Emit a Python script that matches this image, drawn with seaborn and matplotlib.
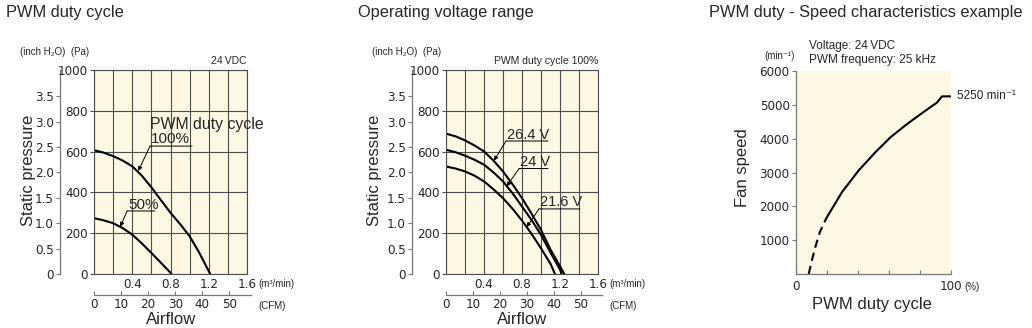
import numpy as np
import pandas as pd
import matplotlib
matplotlib.use("Agg")
import matplotlib.pyplot as plt
import seaborn as sns
from matplotlib import font_manager as fm

# ---------------- data ----------------
# Panel 1: PWM duty cycle (24 VDC)
airflow_pwm100 = [0, 0.1, 0.2, 0.3, 0.4, 0.5, 0.6, 0.7, 0.8, 0.9, 1.0, 1.1, 1.2, 1.215]
pressure_pwm100 = [607, 595, 578, 556, 528, 482, 425, 362, 300, 245, 185, 105, 14, 0]
airflow_pwm50 = [0, 0.1, 0.2, 0.3, 0.4, 0.5, 0.6, 0.7, 0.8, 0.81]
pressure_pwm50 = [274, 263, 249, 225, 193, 150, 103, 55, 6, 0]

# Panel 2: operating voltage range (PWM duty 100%)
airflow_v264 = [0, 0.1, 0.2, 0.3, 0.4, 0.5, 0.6, 0.7, 0.8, 0.9, 1.0, 1.1, 1.2, 1.245]
pressure_v264 = [688, 675, 655, 630, 601, 556, 503, 440, 372, 296, 216, 120, 38, 0]
airflow_v24 = [0, 0.1, 0.2, 0.3, 0.4, 0.5, 0.6, 0.7, 0.8, 0.9, 1.0, 1.1, 1.2, 1.218]
pressure_v24 = [609, 597, 580, 560, 536, 498, 454, 396, 331, 265, 192, 105, 22, 0]
airflow_v216 = [0, 0.1, 0.2, 0.3, 0.4, 0.5, 0.6, 0.7, 0.8, 0.9, 1.0, 1.1, 1.147]
pressure_v216 = [527, 517, 503, 482, 454, 415, 372, 320, 262, 197, 126, 50, 0]

# Panel 3: PWM duty - speed
duty_dashed = [8.2, 10.3, 12.5, 15.5, 19.4]
speed_dashed = [0, 412, 804, 1250, 1637]
duty_solid = [19.4, 29.7, 40.4, 51.2, 60.9, 71.6, 81.3, 91.0, 94.2, 99.6]
speed_solid = [1637, 2422, 3059, 3598, 4039, 4431, 4755, 5069, 5250, 5250]

pa_ticks = [0, 200, 400, 600, 800, 1000]
inch_ticks = [0, 0.5, 1.0, 1.5, 2.0, 2.5, 3.0, 3.5]
inch_labels = ["0", "0.5", "1.0", "1.5", "2.0", "2.5", "3.0", "3.5"]
m3_ticks = [0.4, 0.8, 1.2, 1.6]
m3_labels = ["0.4", "0.8", "1.2", "1.6"]
cfm_ticks = [0, 10, 20, 30, 40, 50]
speed_ticks = [1000, 2000, 3000, 4000, 5000, 6000]
duty_ticks = [0, 20, 40, 60, 80, 100]
duty_labels = ["0", "", "", "", "", "100"]

PA_PER_INCH = 249.09
CFM_PER_M3 = 35.3147

# ---------------- style ----------------
sns.set_theme(style="white")


def has_font(name):
    try:
        fm.findfont(fm.FontProperties(family=name), fallback_to_default=False)
        return True
    except Exception:
        return False


MAIN = "Liberation Sans" if has_font("Liberation Sans") else "DejaVu Sans"
plt.rcParams["font.family"] = [MAIN, "DejaVu Sans"]

# look for a narrow / condensed face for the numbers
narrow_path = None
for f in fm.fontManager.ttflist:
    if f.style != "normal" or f.weight not in (400, "normal", "regular"):
        continue
    if f.name == "Liberation Sans Narrow":
        narrow_path = f.fname
        break
if narrow_path is None:
    for f in fm.fontManager.ttflist:
        if f.style != "normal" or f.weight not in (400, "normal", "regular"):
            continue
        if "Condensed" in f.fname and ("DejaVuSans" in f.fname or "Roboto" in f.fname):
            if "Bold" in f.fname or "Oblique" in f.fname or "Italic" in f.fname:
                continue
            narrow_path = f.fname
            break

if narrow_path is not None:
    NUMFP = dict(fontproperties=fm.FontProperties(fname=narrow_path, size=9.5))
    NUMFP_S = dict(fontproperties=fm.FontProperties(fname=narrow_path, size=8.5))
else:
    NUMFP = dict(fontproperties=fm.FontProperties(family=MAIN, size=9))
    NUMFP_S = dict(fontproperties=fm.FontProperties(family=MAIN, size=8.5))

BEIGE = "#fcf8e3"
GRID = "#4d4d4d"
AXGRAY = "#777777"

W, H = 1032, 328
fig = plt.figure(figsize=(W / 100, H / 100), dpi=100)


def rect(l, t, r, b):
    return [l / W, 1 - b / H, (r - l) / W, (b - t) / H]


def ftext(x, y, s, **kw):
    fig.text(x / W, 1 - y / H, s, **kw)


ax1 = fig.add_axes(rect(94, 70, 247, 274))
ax2 = fig.add_axes(rect(446, 70, 598, 274))
ax3 = fig.add_axes(rect(796, 71, 951, 274))


def pressure_axes(ax, sec_offset):
    ax.set_facecolor(BEIGE)
    ax.set_xlim(0, 1.6)
    ax.set_ylim(0, 1000)
    ax.set_xticks(m3_ticks, m3_labels, **NUMFP)
    ax.set_xticks(np.arange(0, 1.61, 0.2), minor=True)
    ax.set_yticks(pa_ticks, [str(v) for v in pa_ticks], **NUMFP)
    ax.grid(True, which="both", color=GRID, lw=0.8)
    ax.tick_params(axis="x", which="both", length=0, pad=3)
    ax.tick_params(axis="y", length=3, width=0.8, color=GRID, pad=1.5, direction="out", left=True)
    for sp in ax.spines.values():
        sp.set_color(GRID)
        sp.set_linewidth(0.8)
    sec = ax.secondary_yaxis(sec_offset, functions=(lambda p: p / PA_PER_INCH, lambda i: i * PA_PER_INCH))
    sec.set_yticks(inch_ticks, inch_labels, **NUMFP)
    sec.tick_params(length=3, width=0.8, color=AXGRAY, pad=1.5, direction="out")
    sec.spines["left"].set_color(AXGRAY)
    sec.spines["left"].set_linewidth(0.9)
    secx = ax.secondary_xaxis(-0.103, functions=(lambda m: m * CFM_PER_M3, lambda c: c / CFM_PER_M3))
    secx.set_xticks(cfm_ticks, [str(v) for v in cfm_ticks], **NUMFP)
    secx.tick_params(length=3, width=0.8, color=AXGRAY, pad=2, direction="in")
    secx.spines["bottom"].set_color(AXGRAY)
    secx.spines["bottom"].set_linewidth(0.9)
    secx.spines["bottom"].set_bounds(0, 58)


pressure_axes(ax1, -0.222)
pressure_axes(ax2, -0.224)

LW = 1.5
sns.lineplot(x=airflow_pwm100, y=pressure_pwm100, ax=ax1, color="black", lw=LW, sort=False)
sns.lineplot(x=airflow_pwm50, y=pressure_pwm50, ax=ax1, color="black", lw=LW, sort=False)
sns.lineplot(x=airflow_v264, y=pressure_v264, ax=ax2, color="black", lw=LW, sort=False)
sns.lineplot(x=airflow_v24, y=pressure_v24, ax=ax2, color="black", lw=LW, sort=False)
sns.lineplot(x=airflow_v216, y=pressure_v216, ax=ax2, color="black", lw=LW, sort=False)
for ax in (ax1, ax2):
    ax.set_xlabel("")
    ax.set_ylabel("")
    ax.set_xlim(0, 1.6)
    ax.set_ylim(0, 1000)


def callout(ax, label, text_xy, line_x1, tip, fs=10.5):
    # label text, underline and leader arrow (positions in data units)
    tx, ty, uy = text_xy
    ax.text(tx, ty, label, fontsize=fs, ha="left", va="center")
    ax.annotate("", xy=(line_x1, uy), xytext=(tx - 0.01, uy),
                arrowprops=dict(arrowstyle="-", color="black", lw=0.7, shrinkA=0, shrinkB=0))
    ax.annotate("", xy=tip, xytext=(tx - 0.01, uy),
                arrowprops=dict(arrowstyle="-|>", color="black", lw=0.7, mutation_scale=6,
                                shrinkA=0, shrinkB=0))


ax1.text(0.586, 735, "PWM duty cycle", fontsize=11.4, ha="left", va="center")
callout(ax1, "100%", (0.596, 662, 627), 1.025, (0.463, 505), fs=11)
callout(ax1, "50%", (0.356, 338, 309), 0.638, (0.275, 232), fs=11)
callout(ax2, "26.4 V", (0.642, 681, 652), 1.074, (0.505, 556))
callout(ax2, "24 V", (0.779, 549, 517), 1.074, (0.639, 430))
callout(ax2, "21.6 V", (0.989, 353, 319), 1.41, (0.849, 230))

# Panel 3
ax3.set_facecolor(BEIGE)
sns.lineplot(x=duty_dashed, y=speed_dashed, ax=ax3, color="black", lw=LW, sort=False,
             linestyle=(0, (4, 2.5)))
sns.lineplot(x=duty_solid, y=speed_solid, ax=ax3, color="black", lw=LW, sort=False)
ax3.set_xlabel("")
ax3.set_ylabel("")
ax3.set_xlim(0, 100)
ax3.set_ylim(0, 6000)
ax3.set_yticks(speed_ticks, [str(v) for v in speed_ticks], **NUMFP)
ax3.set_xticks(duty_ticks, duty_labels, **NUMFP)
ax3.tick_params(axis="y", length=3, width=0.8, color=AXGRAY, pad=1.5, direction="out", left=True)
ax3.tick_params(axis="x", length=3, width=0.8, color=AXGRAY, pad=4, direction="in", bottom=True)
ax3.spines["top"].set_visible(False)
ax3.spines["right"].set_visible(False)
for s in ("left", "bottom"):
    ax3.spines[s].set_color(AXGRAY)
    ax3.spines[s].set_linewidth(0.9)
ax3.annotate("5250 min\u207b\u00b9", xy=(1, 5250), xycoords=("axes fraction", "data"),
             xytext=(4.5, 0), textcoords="offset points", va="center", ha="left",
             fontsize=8.5, family=[MAIN, "DejaVu Sans"])

# ---------------- texts ----------------
TFS = 11.8
ftext(6, 13, "PWM duty cycle", fontsize=TFS, va="center")
ftext(358, 13, "Operating voltage range", fontsize=TFS, va="center")
ftext(709, 13, "PWM duty - Speed characteristics example", fontsize=TFS, va="center")

LFS = 12
for x in (28, 375):
    ftext(x, 170, "Static pressure", fontsize=LFS, rotation=90, ha="center", va="center")
for x in (171, 522):
    ftext(x, 320, "Airflow", fontsize=LFS, ha="center", va="center")
ftext(743, 168, "Fan speed", fontsize=LFS, rotation=90, ha="center", va="center")
ftext(872, 304, "PWM duty cycle", fontsize=LFS, ha="center", va="center")

SFS = 7
for x0, right, note in ((20, 247, "24\u2009VDC"), (372, 598, "PWM duty cycle 100%")):
    ftext(x0, 52, "(inch H\u2082O)  (Pa)", fontsize=SFS, va="center", family=[MAIN, "DejaVu Sans"])
    ftext(right, 61, note, fontsize=7.5, va="center", ha="right", family=[MAIN, "DejaVu Sans"])
for x0 in (258, 609):
    ftext(x0, 284, "(m\u00b3/min)", fontsize=SFS, va="center")
    ftext(x0, 306, "(CFM)", fontsize=SFS, va="center")

ftext(795, 56, "(min\u207b\u00b9)", fontsize=SFS, va="center", ha="right", family=[MAIN, "DejaVu Sans"])
ftext(809, 46, "Voltage: 24\u2009VDC", fontsize=8.5, va="center", family=[MAIN, "DejaVu Sans"])
ftext(809, 60, "PWM frequency: 25 kHz", fontsize=8.5, va="center")
ftext(964, 287, "(%)", fontsize=SFS, va="center")

fig.savefig("out.png", dpi=100, facecolor="white")
